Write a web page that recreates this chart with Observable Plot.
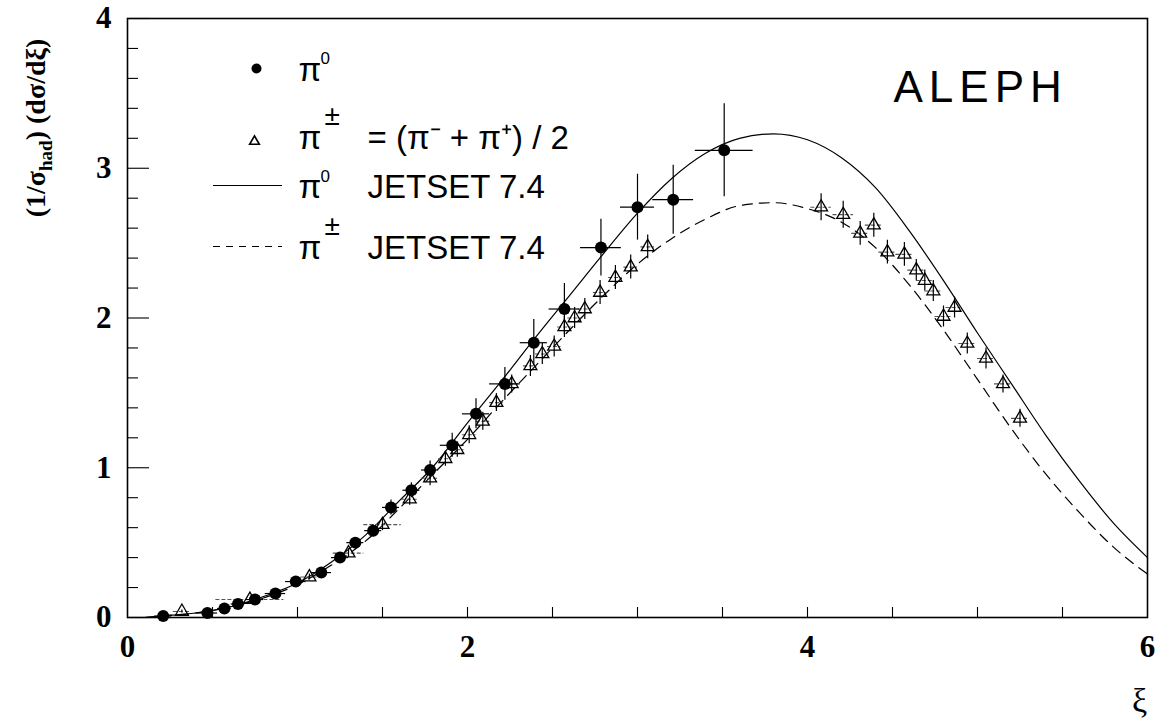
<!DOCTYPE html>
<html>
<head>
<meta charset="utf-8">
<script src="https://cdn.jsdelivr.net/npm/d3@7"></script>
<script src="https://cdn.jsdelivr.net/npm/@observablehq/plot@0.6"></script>
<style>
  body { margin: 0; background: #fff; }
  #chart svg { display: block; }
</style>
</head>
<body>
<div id="chart"></div>
<script>
// ---- pi0 data (filled circles) ----
const pi0Xi   = [0.21, 0.47, 0.57, 0.65, 0.75, 0.87, 0.99, 1.14, 1.25, 1.34, 1.445, 1.55, 1.67, 1.78, 1.91, 2.05, 2.22, 2.39, 2.57, 2.785, 3.00, 3.21, 3.51];
const pi0Val  = [0.01, 0.03, 0.06, 0.09, 0.12, 0.16, 0.24, 0.30, 0.40, 0.50, 0.58, 0.735, 0.85, 0.985, 1.15, 1.36, 1.56, 1.835, 2.06, 2.47, 2.74, 2.79, 3.12];
const pi0XErr = [0.05, 0.06, 0.04, 0.04, 0.05, 0.06, 0.06, 0.06, 0.05, 0.05, 0.05, 0.05, 0.05, 0.05, 0.07, 0.08, 0.09, 0.08, 0.09, 0.12, 0.10, 0.12, 0.17];
const pi0YErr = [0.01, 0.01, 0.01, 0.01, 0.015, 0.02, 0.02, 0.02, 0.03, 0.03, 0.04, 0.05, 0.05, 0.06, 0.08, 0.10, 0.11, 0.155, 0.17, 0.19, 0.22, 0.23, 0.31];

// ---- pi+- data (open triangles) ----
const pipmXi   = [0.32, 0.72, 1.07, 1.30, 1.50, 1.66, 1.78, 1.87, 1.94, 2.01, 2.09, 2.17, 2.26, 2.37, 2.44, 2.51, 2.57, 2.63, 2.69, 2.78, 2.87, 2.96, 3.06,
                  4.08, 4.21, 4.31, 4.39, 4.47, 4.57, 4.64, 4.69, 4.74, 4.80, 4.865, 4.94, 5.05, 5.15, 5.25];
const pipmVal  = [0.04, 0.12, 0.27, 0.43, 0.62, 0.79, 0.93, 1.06, 1.12, 1.22, 1.31, 1.435, 1.56, 1.68, 1.76, 1.81, 1.94, 2.00, 2.06, 2.17, 2.27, 2.34, 2.475,
                  2.74, 2.69, 2.565, 2.62, 2.44, 2.425, 2.32, 2.25, 2.18, 2.01, 2.07, 1.83, 1.73, 1.56, 1.33];
const pipmXErr = [0.05, 0.20, 0.05, 0.09, 0.11, 0.05, 0.05, 0.04, 0.04, 0.04, 0.04, 0.04, 0.04, 0.04, 0.04, 0.04, 0.04, 0.04, 0.04, 0.04, 0.04, 0.04, 0.04,
                  0.06, 0.06, 0.05, 0.05, 0.05, 0.05, 0.05, 0.05, 0.05, 0.05, 0.05, 0.05, 0.05, 0.05, 0.05];
const pipmYErr = [0.01, 0.01, 0.02, 0.03, 0.04, 0.04, 0.05, 0.05, 0.05, 0.06, 0.06, 0.06, 0.06, 0.07, 0.07, 0.07, 0.07, 0.07, 0.07, 0.08, 0.08, 0.08, 0.08,
                  0.09, 0.09, 0.08, 0.08, 0.08, 0.08, 0.07, 0.07, 0.07, 0.07, 0.07, 0.07, 0.07, 0.06, 0.06];

// ---- JETSET 7.4 predictions ----
const curveXi    = [0.1, 0.2, 0.4, 0.6, 0.8, 1.0, 1.2, 1.4, 1.6, 1.8, 2.0, 2.2, 2.4, 2.6, 2.8, 3.0, 3.2, 3.4, 3.6, 3.8, 4.0, 4.2, 4.4, 4.6, 4.8, 5.0, 5.2, 5.4, 5.6, 5.8, 6.0];
const jetsetPi0  = [0.0, 0.01, 0.03, 0.07, 0.14, 0.23, 0.37, 0.55, 0.78, 1.01, 1.30, 1.58, 1.87, 2.15, 2.43, 2.70, 2.93, 3.10, 3.20, 3.23, 3.19, 3.07, 2.87, 2.58, 2.25, 1.90, 1.56, 1.22, 0.91, 0.63, 0.40];
const jetsetPipm = [0.0, 0.01, 0.03, 0.07, 0.13, 0.22, 0.35, 0.51, 0.73, 0.96, 1.19, 1.44, 1.68, 1.92, 2.15, 2.36, 2.53, 2.66, 2.75, 2.77, 2.73, 2.64, 2.47, 2.22, 1.92, 1.59, 1.26, 0.96, 0.70, 0.47, 0.29];

// ---- ticks ----
const yLabelTicks = [0, 1, 2, 3, 4];
const yMinorTicks = [0.2, 0.4, 0.6, 0.8, 1.2, 1.4, 1.6, 1.8, 2.2, 2.4, 2.6, 2.8, 3.2, 3.4, 3.6, 3.8];
const xLabelTicks = [0, 2, 4, 6];
const xMinorTicks = [0.5, 1, 1.5, 2, 2.5, 3, 3.5, 4, 4.5, 5, 5.5];

const pi0 = pi0Xi.map((x, i) => ({x, y: pi0Val[i], xe: pi0XErr[i], ye: pi0YErr[i]}));
const pipm = pipmXi.map((x, i) => ({x, y: pipmVal[i], xe: pipmXErr[i], ye: pipmYErr[i]}));
const curves = curveXi.flatMap((x, i) => [
  {x, y: jetsetPi0[i], s: "pi0"},
  {x, y: jetsetPipm[i], s: "pipm"}
]);

const W = 1164, H = 727;
const mL = 127, mR = 17, mT = 18, mB = 110;
const plotW = W - mL - mR, plotH = H - mT - mB;
const xDom = [0, 6], yDom = [0, 4];
// pixel lengths expressed in data units (for inward ticks and legend lines)
const pxX = p => p / plotW * (xDom[1] - xDom[0]);
const pxY = p => p / plotH * (yDom[1] - yDom[0]);

const sans = "'Liberation Sans', Arial, sans-serif";
const serif = "'Liberation Serif', 'Times New Roman', serif";

function ltext(t, px, py, size, extra = {}) {
  return Plot.text([t], {
    text: d => d, frameAnchor: "top-left", dx: px - mL, dy: py - mT,
    textAnchor: "start", lineAnchor: "bottom", fontSize: size,
    fontFamily: sans, fontWeight: "normal", fill: "black", ...extra
  });
}

const plot = Plot.plot({
  width: W, height: H,
  marginLeft: mL, marginRight: mR, marginTop: mT, marginBottom: mB,
  x: {domain: xDom, label: null},
  y: {domain: yDom, label: null},
  style: {fontFamily: serif, fontWeight: "bold", fontSize: "30px", background: "white", color: "black"},
  marks: [
    // inward ticks
    Plot.ruleY(yLabelTicks, {y: d => d, x1: () => 0, x2: () => pxX(22), stroke: "black", strokeWidth: 1.1}),
    Plot.ruleY(yMinorTicks, {y: d => d, x1: () => 0, x2: () => pxX(11), stroke: "black", strokeWidth: 1.1}),
    Plot.ruleX(xMinorTicks, {x: d => d, y1: () => 0, y2: () => pxY(10), stroke: "black", strokeWidth: 1.1}),
    Plot.axisY({ticks: yLabelTicks, tickFormat: d3.format("d"), tickSize: 0, tickPadding: 16, label: null, fontSize: 31, fontWeight: "bold"}),
    Plot.axisX({ticks: xLabelTicks, tickFormat: d3.format("d"), tickSize: 0, tickPadding: 17, label: null, fontSize: 31, fontWeight: "bold"}),

    // JETSET curves
    Plot.line(curves.filter(d => d.s === "pi0"), {x: "x", y: "y", curve: "monotone-x", stroke: "black", strokeWidth: 1.2}),
    Plot.line(curves.filter(d => d.s === "pipm"), {x: "x", y: "y", curve: "monotone-x", stroke: "black", strokeWidth: 1.2, strokeDasharray: "10,7"}),

    // pi+- error bars and triangles
    Plot.ruleY(pipm, {y: "y", x1: d => d.x - d.xe, x2: d => d.x + d.xe, stroke: "#555", strokeWidth: 1.1, strokeDasharray: "4,2"}),
    Plot.ruleX(pipm, {x: "x", y1: d => d.y - d.ye, y2: d => d.y + d.ye, stroke: "black", strokeWidth: 1.2}),
    Plot.dot(pipm, {x: "x", y: "y", symbol: "triangle", r: 4.8, stroke: "black", strokeWidth: 1.3, fill: "none"}),

    // pi0 error bars and circles
    Plot.ruleY(pi0, {y: "y", x1: d => d.x - d.xe, x2: d => d.x + d.xe, stroke: "black", strokeWidth: 1.2}),
    Plot.ruleX(pi0, {x: "x", y1: d => d.y - d.ye, y2: d => d.y + d.ye, stroke: "black", strokeWidth: 1.2}),
    Plot.dot(pi0, {x: "x", y: "y", r: 6, fill: "black", stroke: "none"}),

    // legend symbols
    Plot.dot([0], {frameAnchor: "top-left", dx: 256 - mL, dy: 68 - mT, r: 5, fill: "black", stroke: "none"}),
    Plot.dot([0], {frameAnchor: "top-left", dx: 254 - mL, dy: 141 - mT, r: 3.6, symbol: "triangle", fill: "none", stroke: "black", strokeWidth: 1.6}),
    Plot.ruleY([yDom[1] - pxY(185 - mT)], {y: d => d, x1: () => pxX(213 - mL), x2: () => pxX(282 - mL), stroke: "black", strokeWidth: 1.1}),
    Plot.ruleY([yDom[1] - pxY(246 - mT)], {y: d => d, x1: () => pxX(213 - mL), x2: () => pxX(282 - mL), stroke: "black", strokeWidth: 1.1, strokeDasharray: "7,6"}),

    // legend texts
    ltext("π", 298, 80, 33), ltext("0", 320, 63, 17),
    ltext("π", 298, 148, 33), ltext("±", 324, 124, 28), ltext("= (π⁻ + π⁺) / 2", 367, 148, 33),
    ltext("π", 298, 197, 33), ltext("0", 320, 181, 17), ltext("JETSET 7.4", 367, 197, 33),
    ltext("π", 298, 258, 33), ltext("±", 324, 234, 28), ltext("JETSET 7.4", 367, 258, 33),
    ltext("ALEPH", 893, 101, 44),

    // x axis title
    Plot.text(["ξ"], {text: d => d, frameAnchor: "bottom-right", dx: -8, dy: 84, lineAnchor: "middle", textAnchor: "middle",
      fontFamily: serif, fontWeight: "normal", fontSize: 34}),

    Plot.frame({stroke: "black", strokeWidth: 1.6})
  ]
});

document.getElementById("chart").appendChild(plot);

d3.select(plot).selectAll("text").filter(function () { return this.textContent === "ALEPH"; })
  .style("letter-spacing", "6px");

// y-axis title with subscript
const yt = d3.select(plot).append("text")
  .attr("transform", "translate(45,128) rotate(-90)")
  .attr("text-anchor", "middle")
  .attr("font-family", serif)
  .attr("font-weight", "bold")
  .attr("font-size", 28)
  .attr("fill", "black");
yt.append("tspan").text("(1/σ");
yt.append("tspan").attr("font-size", 19).attr("dy", 7).text("had");
yt.append("tspan").attr("dy", -7).text(") (dσ/dξ)");
</script>
</body>
</html>
